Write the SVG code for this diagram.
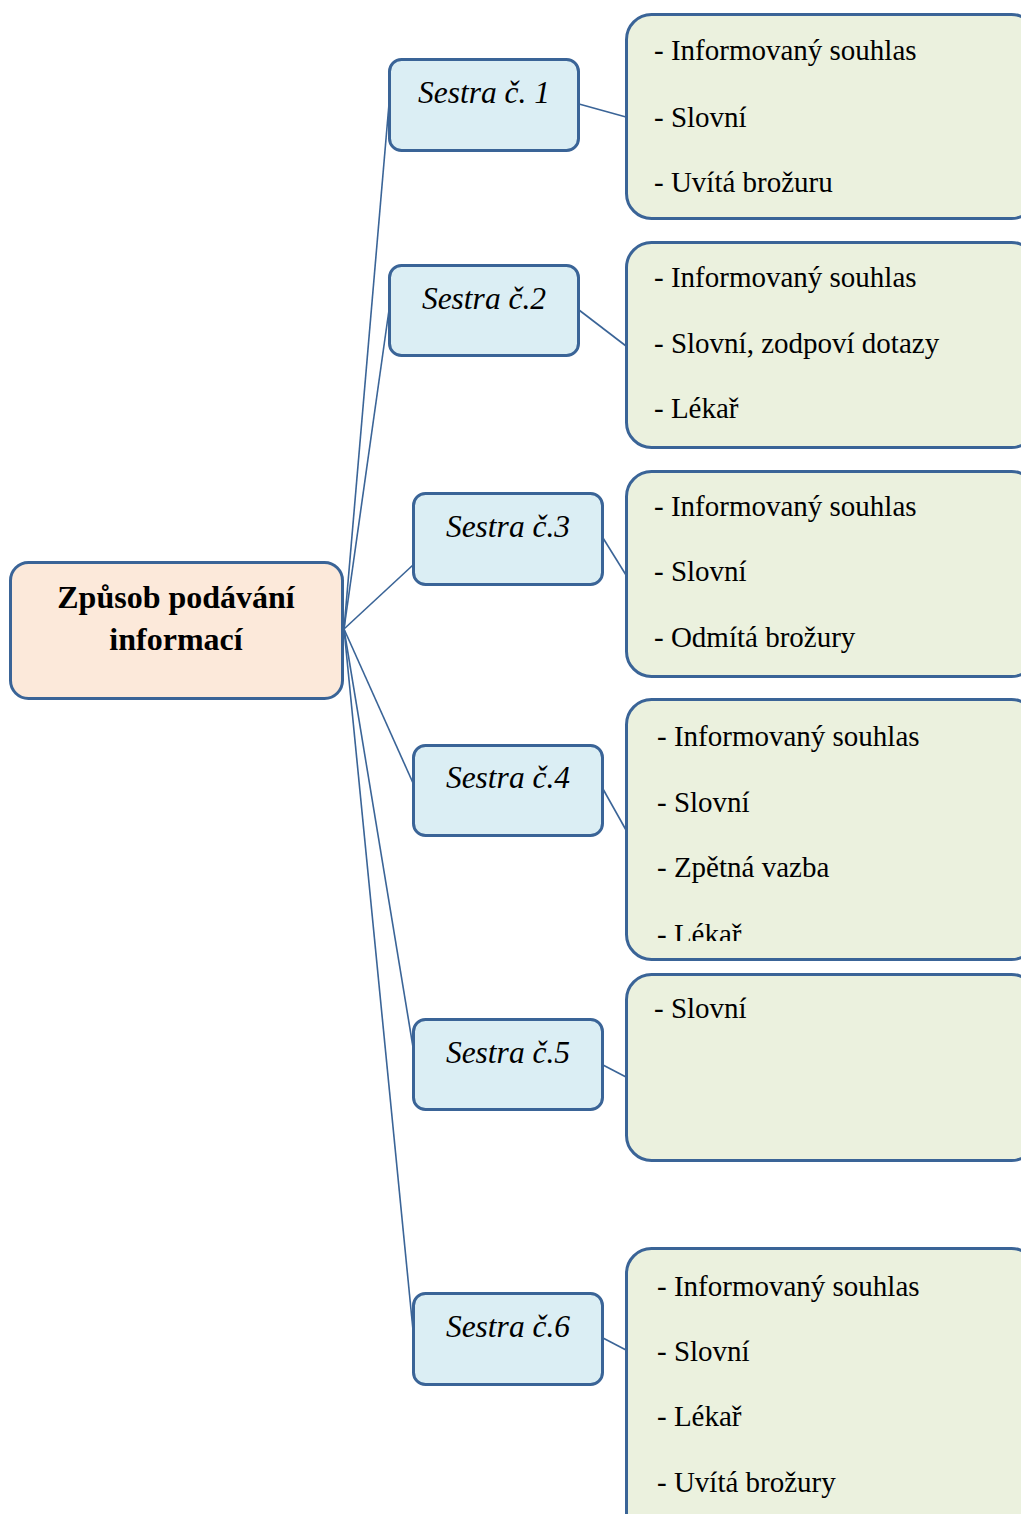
<svg xmlns="http://www.w3.org/2000/svg" width="1021" height="1514" viewBox="0 0 1021 1514">
<style>
.box{stroke:#3A6497;stroke-width:3}
.root{fill:#FCE9DA}
.nurse{fill:#DBEEF4}
.info{fill:#EBF1DE}
.rt{font-family:"Liberation Serif","Times New Roman",serif;font-weight:bold;font-size:32px;fill:#000;text-anchor:middle}
.nt{font-family:"Liberation Serif","Times New Roman",serif;font-style:italic;font-size:31.5px;fill:#000;text-anchor:middle}
.it{font-family:"Liberation Serif","Times New Roman",serif;font-size:29px;fill:#000}
.con{stroke:#3A6497;stroke-width:1.6;fill:none}
</style>
<defs>
<clipPath id="clip4"><rect x="626" y="699" width="400" height="242"/></clipPath>
</defs>
<rect width="1021" height="1514" fill="#fff"/>
<g id="connectors">
<line class="con" x1="344" y1="629" x2="389" y2="104"/>
<line class="con" x1="344" y1="629" x2="389" y2="310"/>
<line class="con" x1="344" y1="629" x2="413" y2="565"/>
<line class="con" x1="344" y1="629" x2="413" y2="783"/>
<line class="con" x1="344" y1="629" x2="413" y2="1047"/>
<line class="con" x1="344" y1="629" x2="413" y2="1330"/>
<line class="con" x1="579" y1="104" x2="626" y2="117"/>
<line class="con" x1="579" y1="310" x2="626" y2="346"/>
<line class="con" x1="603" y1="538" x2="626" y2="575"/>
<line class="con" x1="603" y1="789" x2="626" y2="830"/>
<line class="con" x1="603" y1="1065" x2="626" y2="1077"/>
<line class="con" x1="603" y1="1338" x2="626" y2="1350"/>
</g>
<g id="root">
<rect class="box root" x="10.5" y="562.5" width="332" height="136" rx="18"/>
<text class="rt" x="176" y="608">Způsob podávání</text>
<text class="rt" x="176" y="650">informací</text>
</g>
<g id="sestra1">
<rect class="box nurse" x="389.5" y="59.5" width="189" height="91" rx="12"/>
<text class="nt" x="484" y="103">Sestra č. 1</text>
</g>
<g id="sestra2">
<rect class="box nurse" x="389.5" y="265.5" width="189" height="90" rx="12"/>
<text class="nt" x="484" y="309">Sestra č.2</text>
</g>
<g id="sestra3">
<rect class="box nurse" x="413.5" y="493.5" width="189" height="91" rx="12"/>
<text class="nt" x="508" y="537">Sestra č.3</text>
</g>
<g id="sestra4">
<rect class="box nurse" x="413.5" y="745.5" width="189" height="90" rx="12"/>
<text class="nt" x="508" y="788">Sestra č.4</text>
</g>
<g id="sestra5">
<rect class="box nurse" x="413.5" y="1019.5" width="189" height="90" rx="12"/>
<text class="nt" x="508" y="1063">Sestra č.5</text>
</g>
<g id="sestra6">
<rect class="box nurse" x="413.5" y="1293.5" width="189" height="91" rx="12"/>
<text class="nt" x="508" y="1337">Sestra č.6</text>
</g>
<g id="info1">
<rect class="box info" x="626.5" y="14.5" width="410" height="204" rx="25"/>
<text class="it" x="654" y="60">- Informovaný souhlas</text>
<text class="it" x="654" y="127">- Slovní</text>
<text class="it" x="654" y="192">- Uvítá brožuru</text>
</g>
<g id="info2">
<rect class="box info" x="626.5" y="242.5" width="410" height="205" rx="25"/>
<text class="it" x="654" y="287">- Informovaný souhlas</text>
<text class="it" x="654" y="353">- Slovní, zodpoví dotazy</text>
<text class="it" x="654" y="418">- Lékař</text>
</g>
<g id="info3">
<rect class="box info" x="626.5" y="471.5" width="410" height="205" rx="25"/>
<text class="it" x="654" y="516">- Informovaný souhlas</text>
<text class="it" x="654" y="581">- Slovní</text>
<text class="it" x="654" y="647">- Odmítá brožury</text>
</g>
<g id="info4">
<rect class="box info" x="626.5" y="699.5" width="410" height="260" rx="25"/>
<text class="it" x="657" y="746">- Informovaný souhlas</text>
<text class="it" x="657" y="812">- Slovní</text>
<text class="it" x="657" y="877">- Zpětná vazba</text>
<text class="it" x="657" y="944" clip-path="url(#clip4)">- Lékař</text>
</g>
<g id="info5">
<rect class="box info" x="626.5" y="974.5" width="410" height="186" rx="25"/>
<text class="it" x="654" y="1018">- Slovní</text>
</g>
<g id="info6">
<rect class="box info" x="626.5" y="1248.5" width="410" height="290" rx="25"/>
<text class="it" x="657" y="1296">- Informovaný souhlas</text>
<text class="it" x="657" y="1361">- Slovní</text>
<text class="it" x="657" y="1426">- Lékař</text>
<text class="it" x="657" y="1492">- Uvítá brožury</text>
</g>
</svg>
